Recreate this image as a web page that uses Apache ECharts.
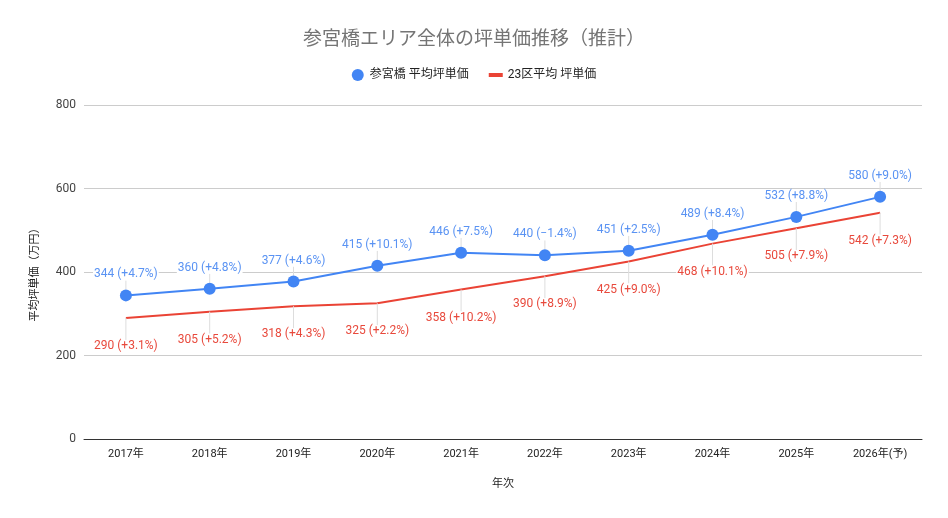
<!DOCTYPE html>
<html><head><meta charset="utf-8">
<script src="https://cdn.jsdelivr.net/npm/echarts@6/dist/echarts.min.js"></script>
<style>html,body{margin:0;padding:0;background:#fff}#c{width:948px;height:518px}</style>
</head><body><div id="c"></div>
<script>
const categories = ['2017年','2018年','2019年','2020年','2021年','2022年','2023年','2024年','2025年','2026年(予)'];
const sangubashi = [344, 360, 377, 415, 446, 440, 451, 489, 532, 580];
const sangubashiPct = ['+4.7%','+4.8%','+4.6%','+10.1%','+7.5%','−1.4%','+2.5%','+8.4%','+8.8%','+9.0%'];
const ward23 = [290, 305, 318, 325, 358, 390, 425, 468, 505, 542];
const ward23Pct = ['+3.1%','+5.2%','+4.3%','+2.2%','+10.2%','+8.9%','+9.0%','+10.1%','+7.9%','+7.3%'];
const yTicks = [0, 200, 400, 600, 800];

const FONT = '"Roboto","Noto Sans CJK JP",sans-serif';
const chart = echarts.init(document.getElementById('c'));
chart.setOption({
  animation: false,
  textStyle: {fontFamily: FONT},
  title: {text: '参宮橋エリア全体の坪単価推移（推計）', left: 'center', top: 26,
    textStyle: {fontSize: 19, fontWeight: 'normal', color: '#757575', fontFamily: FONT}},
  legend: {top: 64, left: 'center', itemGap: 20, itemWidth: 14, itemHeight: 12,
    textStyle: {fontSize: 12, color: '#222'},
    data: [{name: '参宮橋 平均坪単価', icon: 'circle'},
           {name: '23区平均 坪単価', icon: 'path://M0,4h14v4h-14z', itemStyle: {color: '#EA4335', opacity: 1}}]},
  grid: {left: 84, right: 26, top: 105, bottom: 79},
  xAxis: {type: 'category', data: categories, boundaryGap: true,
    name: '年次', nameLocation: 'middle', nameGap: 40,
    nameTextStyle: {fontSize: 11, color: '#222'},
    axisLine: {lineStyle: {color: '#333', width: 1}}, axisTick: {show: false},
    axisLabel: {fontSize: 11, color: '#222', margin: 10}},
  yAxis: {type: 'value', min: 0, max: 800, interval: 200,
    name: '平均坪単価（万円）', nameLocation: 'middle', nameGap: 43, nameRotate: 90,
    nameTextStyle: {fontSize: 11, color: '#222'},
    axisLine: {show: false}, axisTick: {show: false},
    axisLabel: {fontSize: 12, color: '#444', margin: 8, formatter: v => yTicks.includes(v) ? String(v) : ''},
    splitLine: {lineStyle: {color: '#cccccc'}}},
  series: [
    {name: '参宮橋 平均坪単価', type: 'line', data: sangubashi, z: 3,
      symbol: 'circle', symbolSize: 12, color: '#4285F4',
      lineStyle: {width: 2, color: '#4285F4'}, itemStyle: {color: '#4285F4'},
      label: {show: true, position: 'top', distance: 2, fontSize: 12, color: '#5a93f3',
        backgroundColor: '#fff', padding: [0, 1],
        formatter: p => p.value + ' (' + sangubashiPct[p.dataIndex] + ')'},
      labelLayout: {dy: -7},
      labelLine: {show: true, length2: 0, lineStyle: {color: '#dddddd', width: 1}}
    },
    {name: '23区平均 坪単価', type: 'line', data: ward23, z: 2,
      symbol: 'circle', symbolSize: 0.01, showSymbol: true, color: '#EA4335',
      lineStyle: {width: 2, color: '#EA4335'}, itemStyle: {color: '#EA4335'},
      label: {show: true, position: 'bottom', distance: 2, fontSize: 12, color: '#e8493c',
        backgroundColor: '#fff', padding: [0, 1],
        formatter: p => p.value + ' (' + ward23Pct[p.dataIndex] + ')'},
      labelLayout: {dy: 20},
      labelLine: {show: true, length2: 0, lineStyle: {color: '#dddddd', width: 1}}
    }
  ]
});
</script></body></html>
